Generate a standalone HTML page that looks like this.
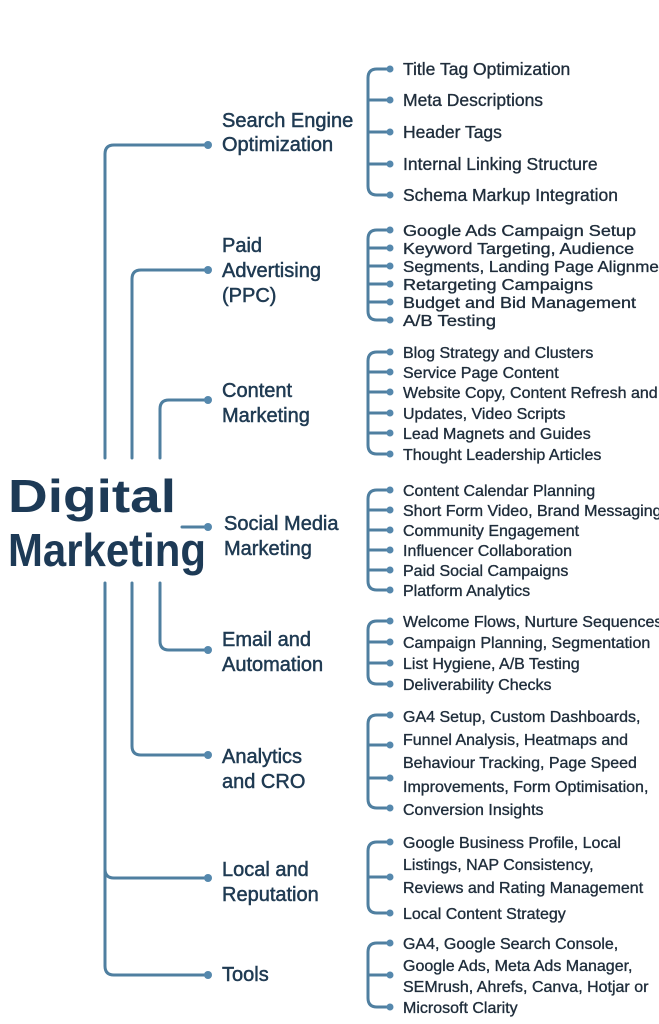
<!DOCTYPE html>
<html><head><meta charset="utf-8"><style>
html,body{margin:0;padding:0;background:#fff;width:659px;height:1024px;overflow:hidden}
svg{display:block}
text{font-family:"Liberation Sans",sans-serif;fill:#1f2d3b;stroke:#1f2d3b;stroke-width:0.35px}
.c{font-size:20px;fill:#1f3a52;stroke:#1f3a52;stroke-width:0.5px}
.s{font-size:17.5px}
.t{font-size:16px}
.ln{fill:none;stroke:#4f7fa0;stroke-width:3;stroke-linecap:round}
.d{fill:#5588ad}
</style></head><body>
<svg width="659" height="1024" viewBox="0 0 659 1024">
<path class="ln" d="M208 145 H114 Q105 145 105 154 V458 M105 583 V966 Q105 975 114 975 H208 M105 869 Q105 878 114 878 H208"/>
<path class="ln" d="M208 270 H141 Q132 270 132 279 V458 M132 583 V746 Q132 755 141 755 H208"/>
<path class="ln" d="M208 400 H169 Q160 400 160 409 V458 M160 583 V641 Q160 650 169 650 H208"/>
<path class="ln" d="M182 527 H208"/>
<g class="d"><circle cx="208" cy="145" r="4"/><circle cx="208" cy="270" r="4"/><circle cx="208" cy="400" r="4"/><circle cx="208" cy="527" r="4"/><circle cx="208" cy="650" r="4"/><circle cx="208" cy="755" r="4"/><circle cx="208" cy="878" r="4"/><circle cx="208" cy="975" r="4"/></g>

<text x="8" y="512" font-size="46" font-weight="bold" style="fill:#1d3a56;stroke:none" textLength="168" lengthAdjust="spacingAndGlyphs">Digital</text>
<text x="8" y="566" font-size="46" font-weight="bold" style="fill:#1d3a56;stroke:none" textLength="198" lengthAdjust="spacingAndGlyphs">Marketing</text>

<text class="c" x="222" y="127">Search Engine</text><text class="c" x="222" y="151">Optimization</text>
<text class="c" x="222" y="252">Paid</text><text class="c" x="222" y="277">Advertising</text><text class="c" x="222" y="302">(PPC)</text>
<text class="c" x="222" y="397">Content</text><text class="c" x="222" y="422">Marketing</text>
<text class="c" x="224" y="530">Social Media</text><text class="c" x="224" y="555">Marketing</text>
<text class="c" x="222" y="646">Email and</text><text class="c" x="222" y="671">Automation</text>
<text class="c" x="222" y="763">Analytics</text><text class="c" x="222" y="788">and CRO</text>
<text class="c" x="222" y="876">Local and</text><text class="c" x="222" y="901">Reputation</text>
<text class="c" x="222" y="981">Tools</text>

<path class="ln" d="M388 69 H377 Q368 69 368 78 V186 Q368 195 377 195 H388 M368 100 H388 M368 132 H388 M368 164 H388"/>
<path class="ln" d="M388 230 H377 Q368 230 368 239 V311 Q368 320 377 320 H388 M368 248 H388 M368 266 H388 M368 284 H388 M368 302 H388"/>
<path class="ln" d="M388 352 H377 Q368 352 368 361 V445 Q368 454 377 454 H388 M368 372 H388 M368 392 H388 M368 413 H388 M368 433 H388"/>
<path class="ln" d="M388 490 H377 Q368 490 368 499 V581 Q368 590 377 590 H388 M368 510 H388 M368 530 H388 M368 550 H388 M368 570 H388"/>
<path class="ln" d="M388 621 H377 Q368 621 368 630 V675 Q368 684 377 684 H388 M368 642 H388 M368 663 H388"/>
<path class="ln" d="M388 715 H377 Q368 715 368 724 V799 Q368 808 377 808 H388 M368 745 H388 M368 778 H388"/>
<path class="ln" d="M388 842 H377 Q368 842 368 851 V904 Q368 913 377 913 H388 M368 877 H388"/>
<path class="ln" d="M388 943 H377 Q368 943 368 952 V998 Q368 1007 377 1007 H388 M368 975 H388"/>
<g class="d">
<circle cx="390" cy="69" r="3.5"/><circle cx="390" cy="100" r="3.5"/><circle cx="390" cy="132" r="3.5"/><circle cx="390" cy="164" r="3.5"/><circle cx="390" cy="195" r="3.5"/>
<circle cx="390" cy="230" r="3.5"/><circle cx="390" cy="248" r="3.5"/><circle cx="390" cy="266" r="3.5"/><circle cx="390" cy="284" r="3.5"/><circle cx="390" cy="302" r="3.5"/><circle cx="390" cy="320" r="3.5"/>
<circle cx="390" cy="352" r="3.5"/><circle cx="390" cy="372" r="3.5"/><circle cx="390" cy="392" r="3.5"/><circle cx="390" cy="413" r="3.5"/><circle cx="390" cy="433" r="3.5"/><circle cx="390" cy="454" r="3.5"/>
<circle cx="390" cy="490" r="3.5"/><circle cx="390" cy="510" r="3.5"/><circle cx="390" cy="530" r="3.5"/><circle cx="390" cy="550" r="3.5"/><circle cx="390" cy="570" r="3.5"/><circle cx="390" cy="590" r="3.5"/>
<circle cx="390" cy="621" r="3.5"/><circle cx="390" cy="642" r="3.5"/><circle cx="390" cy="663" r="3.5"/><circle cx="390" cy="684" r="3.5"/>
<circle cx="390" cy="715" r="3.5"/><circle cx="390" cy="745" r="3.5"/><circle cx="390" cy="778" r="3.5"/><circle cx="390" cy="808" r="3.5"/>
<circle cx="390" cy="842" r="3.5"/><circle cx="390" cy="877" r="3.5"/><circle cx="390" cy="913" r="3.5"/>
<circle cx="390" cy="943" r="3.5"/><circle cx="390" cy="975" r="3.5"/><circle cx="390" cy="1007" r="3.5"/>
</g>

<g class="s">
<text x="403" y="75">Title Tag Optimization</text>
<text x="403" y="106">Meta Descriptions</text>
<text x="403" y="138">Header Tags</text>
<text x="403" y="170">Internal Linking Structure</text>
<text x="403" y="201">Schema Markup Integration</text>
</g>
<g class="t">
<text x="403" y="236" textLength="233" lengthAdjust="spacingAndGlyphs">Google Ads Campaign Setup</text>
<text x="403" y="254" textLength="231" lengthAdjust="spacingAndGlyphs">Keyword Targeting, Audience</text>
<text x="403" y="272" textLength="270" lengthAdjust="spacingAndGlyphs">Segments, Landing Page Alignment</text>
<text x="403" y="290" textLength="190" lengthAdjust="spacingAndGlyphs">Retargeting Campaigns</text>
<text x="403" y="308" textLength="233" lengthAdjust="spacingAndGlyphs">Budget and Bid Management</text>
<text x="403" y="326" textLength="93" lengthAdjust="spacingAndGlyphs">A/B Testing</text>

<text x="403" y="358">Blog Strategy and Clusters</text>
<text x="403" y="378">Service Page Content</text>
<text x="403" y="398">Website Copy, Content Refresh and</text>
<text x="403" y="419">Updates, Video Scripts</text>
<text x="403" y="439">Lead Magnets and Guides</text>
<text x="403" y="460">Thought Leadership Articles</text>

<text x="403" y="496">Content Calendar Planning</text>
<text x="403" y="516">Short Form Video, Brand Messaging</text>
<text x="403" y="536">Community Engagement</text>
<text x="403" y="556">Influencer Collaboration</text>
<text x="403" y="576">Paid Social Campaigns</text>
<text x="403" y="596">Platform Analytics</text>

<text x="403" y="627">Welcome Flows, Nurture Sequences</text>
<text x="403" y="648">Campaign Planning, Segmentation</text>
<text x="403" y="669">List Hygiene, A/B Testing</text>
<text x="403" y="690">Deliverability Checks</text>

<text x="403" y="722">GA4 Setup, Custom Dashboards,</text>
<text x="403" y="745">Funnel Analysis, Heatmaps and</text>
<text x="403" y="768">Behaviour Tracking, Page Speed</text>
<text x="403" y="792">Improvements, Form Optimisation,</text>
<text x="403" y="815">Conversion Insights</text>

<text x="403" y="848">Google Business Profile, Local</text>
<text x="403" y="870">Listings, NAP Consistency,</text>
<text x="403" y="893">Reviews and Rating Management</text>
<text x="403" y="919">Local Content Strategy</text>

<text x="403" y="949">GA4, Google Search Console,</text>
<text x="403" y="971">Google Ads, Meta Ads Manager,</text>
<text x="403" y="992">SEMrush, Ahrefs, Canva, Hotjar or</text>
<text x="403" y="1013">Microsoft Clarity</text>
</g>
</svg>
</body></html>
